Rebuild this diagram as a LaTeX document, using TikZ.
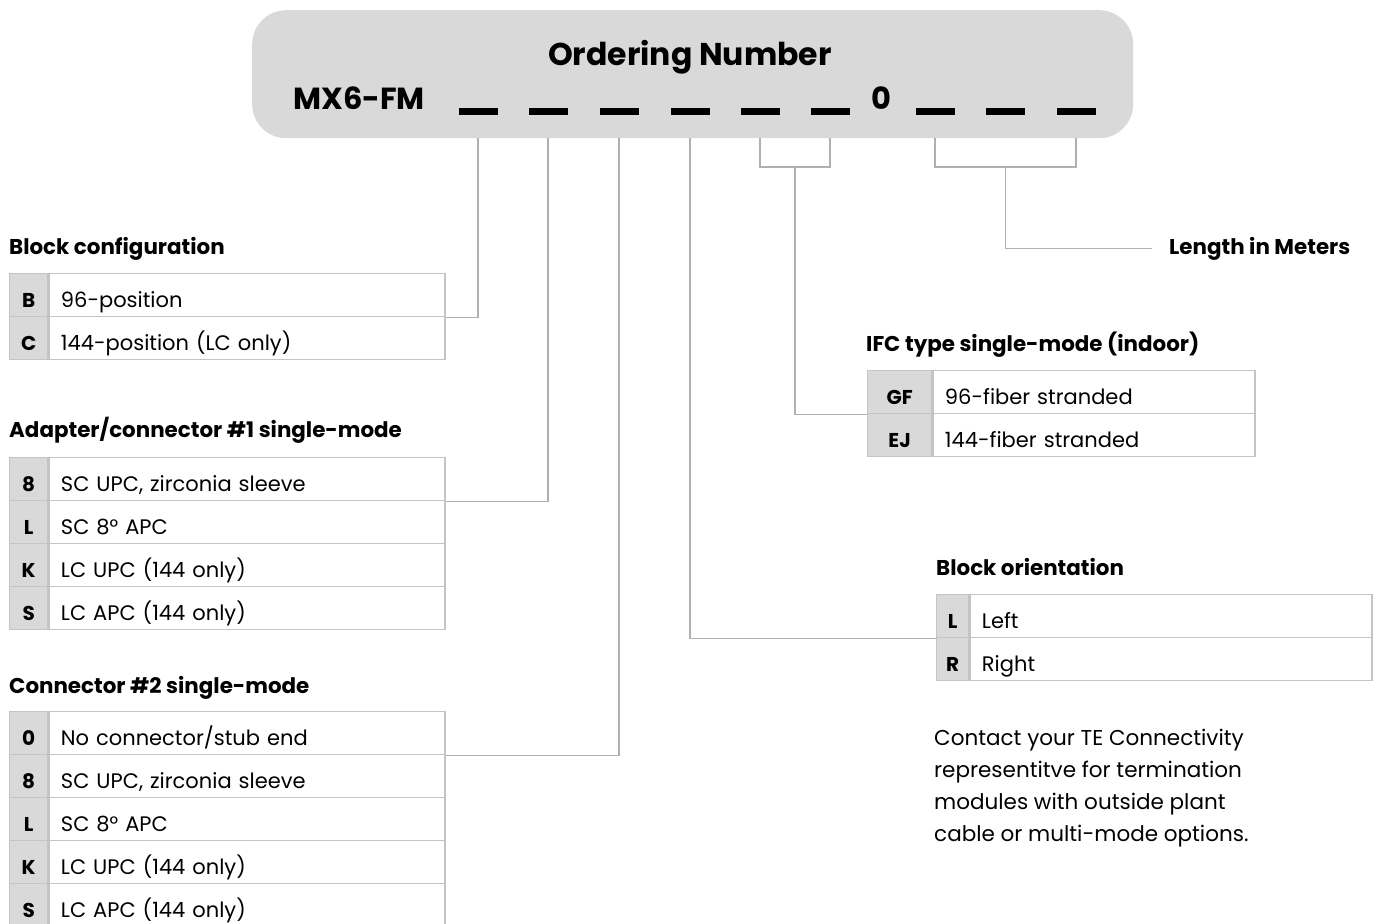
\documentclass[tikz,border=0pt]{standalone}
\usepackage{fontspec}
\setmainfont{Poppins}
\usetikzlibrary{positioning}
\usetikzlibrary{calc}

\definecolor{keygray}{HTML}{D9D9D9}
\definecolor{rulegray}{HTML}{C4C4C4}
\definecolor{linkgray}{HTML}{B0B0B0}

\begin{document}
\begin{tikzpicture}[x=1pt, y=-1pt,
    keycell/.style={draw=rulegray, fill=keygray, line width=1.3pt, minimum height=43, inner sep=0, text height=26, text depth=1.5, font=\bfseries\fontsize{20}{24}\selectfont},
    valcell/.style={draw=rulegray, line width=1.3pt, minimum height=43, inner xsep=12, inner ysep=0, text height=26, text depth=1.5, align=left, font=\fontsize{21}{24}\selectfont},
    heading/.style={anchor=base west, inner sep=0, font=\bfseries\fontsize{21.4}{25}\selectfont},
    blank/.style={fill=black, minimum width=39, minimum height=7, inner sep=0},
    link/.style={draw=linkgray, line width=1.3pt}]
\useasboundingbox (0,0) rectangle (1383,923);

% ordering number banner
\node[fill=keygray, rounded corners=34, minimum width=881, minimum height=128, anchor=north west, inner sep=0] (hdr) at (252,10) {};
\node[anchor=base, inner sep=0, font=\bfseries\fontsize{31.5}{36}\selectfont] (title) at (690,66) {Ordering Number};
\node[anchor=base west, inner sep=0, font=\bfseries\fontsize{30.5}{36}\selectfont] (part) at (293,110) {MX6-FM};
\node[anchor=base, inner sep=0, font=\bfseries\fontsize{30.5}{36}\selectfont] (zero) at (881,110) {0};
\foreach \x [count=\i] in {478,548,619,690,760,830,935,1005,1076}
  \node[blank] (b\i) at (\x,111.5) {};
\coordinate (brk) at (0,167);

% block configuration
\node[heading] (cfg) at (9,254) {Block configuration};
\foreach \k/\t [count=\i] in {B/96-position, C/144-position (LC only)} {
  \node[keycell, minimum width=38, anchor=north west] (cfg-k\i) at (9,273+43*\i-43) {\k};
  \node[valcell, text width=372, right=0pt of cfg-k\i] (cfg-v\i) {\t};
}

% adapter/connector #1
\node[heading] (ad) at (9,437) {Adapter/connector \#1 single-mode};
\foreach \k/\t [count=\i] in {8/{SC UPC, zirconia sleeve}, L/SC 8° APC, K/LC UPC (144 only), S/LC APC (144 only)} {
  \node[keycell, minimum width=38, anchor=north west] (ad-k\i) at (9,457+43*\i-43) {\k};
  \node[valcell, text width=372, right=0pt of ad-k\i] (ad-v\i) {\t};
}

% connector #2
\node[heading] (cn) at (9,693) {Connector \#2 single-mode};
\foreach \k/\t [count=\i] in {0/{No connector/stub end}, 8/{SC UPC, zirconia sleeve}, L/SC 8° APC, K/LC UPC (144 only), S/LC APC (144 only)} {
  \node[keycell, minimum width=38, anchor=north west] (cn-k\i) at (9,711+43*\i-43) {\k};
  \node[valcell, text width=372, right=0pt of cn-k\i] (cn-v\i) {\t};
}

% IFC type
\node[heading] (ifc) at (866,351) {IFC type single-mode (indoor)};
\foreach \k/\t [count=\i] in {GF/96-fiber stranded, EJ/144-fiber stranded} {
  \node[keycell, minimum width=64, anchor=north west] (ifc-k\i) at (867,370+43*\i-43) {\k};
  \node[valcell, text width=298, right=0pt of ifc-k\i] (ifc-v\i) {\t};
}

% block orientation
\node[heading] (ori) at (936,575) {Block orientation};
\foreach \k/\t [count=\i] in {L/Left, R/Right} {
  \node[keycell, minimum width=32, anchor=north west] (ori-k\i) at (936,594+43*\i-43) {\k};
  \node[valcell, text width=378, right=0pt of ori-k\i] (ori-v\i) {\t};
}

\node[heading] (len) at (1169,254) {Length in Meters};
\node[anchor=north west, inner sep=0, align=left, font=\fontsize{21.5}{32}\selectfont] (note) at (934,729)
  {Contact your TE Connectivity\\representitve for termination\\modules with outside plant\\cable or multi-mode options.};

% leader lines
\draw[link] (b1 |- hdr.south) |- (cfg-v1.south east);
\draw[link] (b2 |- hdr.south) |- (ad-v1.south east);
\draw[link] (b3 |- hdr.south) |- (cn-v1.south east);
\draw[link] (b4 |- hdr.south) |- (ori-k1.south west);
\draw[link] (b5 |- hdr.south) -- (b5 |- brk) -- (b6 |- brk) -- (b6 |- hdr.south);
\draw[link] (b7 |- hdr.south) -- (b7 |- brk) -- (b9 |- brk) -- (b9 |- hdr.south);
\draw[link] ($(b5 |- brk)!.5!(b6 |- brk)$) |- (ifc-k1.south west);
\draw[link] ($(b7 |- brk)!.5!(b9 |- brk)$) |- ([xshift=-17]len.west);
\end{tikzpicture}
\end{document}
